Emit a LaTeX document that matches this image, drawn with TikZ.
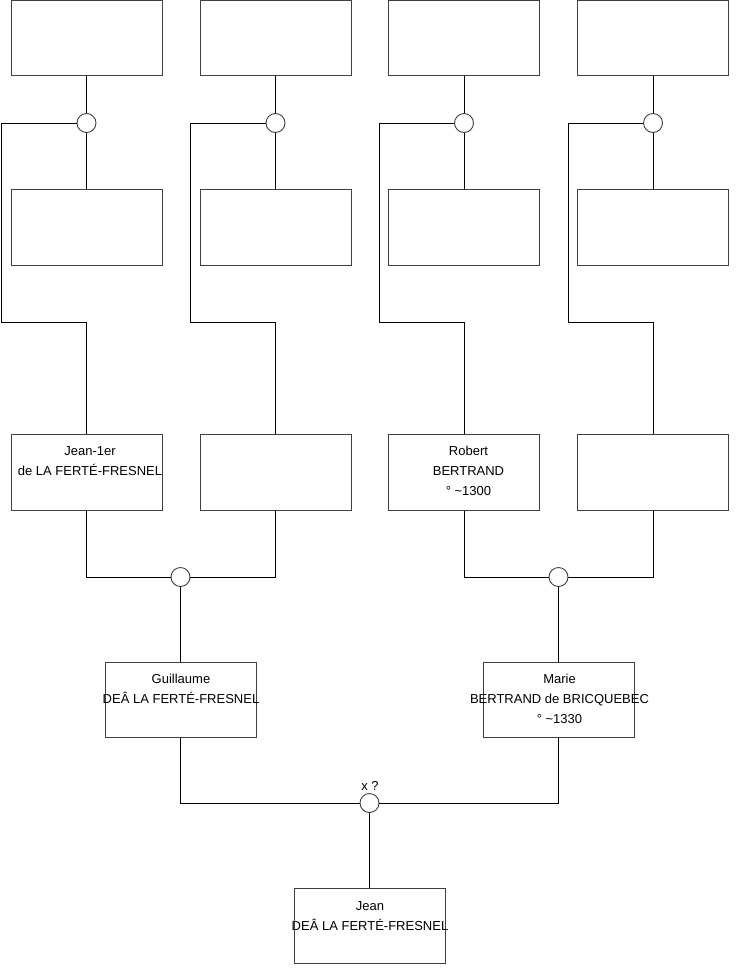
\documentclass[tikz,border=0pt]{standalone}
\usepackage{fontspec}
\setmainfont{Liberation Sans}
\begin{document}
\begin{tikzpicture}[x=1pt,y=-1pt,
  person/.style={draw=black!75,line width=0.9pt,fill=white,minimum width=151pt,minimum height=75.5pt,inner sep=0pt},
  union/.style={circle,draw=black!75,line width=0.9pt,fill=white,minimum size=19pt,inner sep=0pt},
  link/.style={draw=black,line width=0.9pt},
  txt/.style={anchor=base,inner sep=0pt,font=\fontsize{13}{20}\selectfont}]
\useasboundingbox (0,0) rectangle (740,975);
% top row
\node[person] (a1) at (86.5,38) {};
\node[person] (a2) at (275.5,38) {};
\node[person] (a3) at (464,38) {};
\node[person] (a4) at (653,38) {};
% second row
\node[person] (b1) at (86.5,227.5) {};
\node[person] (b2) at (275.5,227.5) {};
\node[person] (b3) at (464,227.5) {};
\node[person] (b4) at (653,227.5) {};
% third row
\node[person] (r1) at (86.5,472.5) {};
\node[person] (r2) at (275.5,472.5) {};
\node[person] (r3) at (464,472.5) {};
\node[person] (r4) at (653,472.5) {};
% fourth row
\node[person] (g) at (180.5,700) {};
\node[person] (m) at (558.5,700) {};
% bottom
\node[person] (j) at (369.5,926) {};
% unions
\node[union] (u1) at (86.5,123) {};
\node[union] (u2) at (275.5,123) {};
\node[union] (u3) at (464,123) {};
\node[union] (u4) at (653,123) {};
\node[union] (v1) at (180.5,577) {};
\node[union] (v2) at (558.5,577) {};
\node[union] (w) at (369.5,803) {};
% texts
\node[txt] (t1) at (90,455.5) {\begin{tabular}[t]{@{}c@{}}Jean-1er\\de LA FERTÉ-FRESNEL\end{tabular}};
\node[txt] (t3) at (468.5,455.5) {\begin{tabular}[t]{@{}c@{}}Robert\\BERTRAND\\° \textasciitilde1300\end{tabular}};
\node[txt] (tg) at (181,683.5) {\begin{tabular}[t]{@{}c@{}}Guillaume\\DEÂ LA FERTÉ-FRESNEL\end{tabular}};
\node[txt] (tm) at (559.5,683.5) {\begin{tabular}[t]{@{}c@{}}Marie\\BERTRAND de BRICQUEBEC\\° \textasciitilde1330\end{tabular}};
\node[txt] (tj) at (370,910.5) {\begin{tabular}[t]{@{}c@{}}Jean\\DEÂ LA FERTÉ-FRESNEL\end{tabular}};
\node[txt] (tx) at (370,790.5) {x ?};
% connectors top
\foreach \i/\lx in {1/1.7,2/190.3,3/379,4/568.3}{
  \draw[link] (a\i.south) -- (u\i.north);
  \draw[link] (u\i.south) -- (b\i.north);
  \coordinate (p\i) at (\lx,123);
  \coordinate (q\i) at (\lx,322);
  \draw[link] (u\i.west) -- (p\i) -- (q\i) -| (r\i.north);
}
\draw[link] (r1.south) |- (v1.west);
\draw[link] (r2.south) |- (v1.east);
\draw[link] (r3.south) |- (v2.west);
\draw[link] (r4.south) |- (v2.east);
\draw[link] (v1.south) -- (g.north);
\draw[link] (v2.south) -- (m.north);
\draw[link] (g.south) |- (w.west);
\draw[link] (m.south) |- (w.east);
\draw[link] (w.south) -- (j.north);
\end{tikzpicture}
\end{document}
